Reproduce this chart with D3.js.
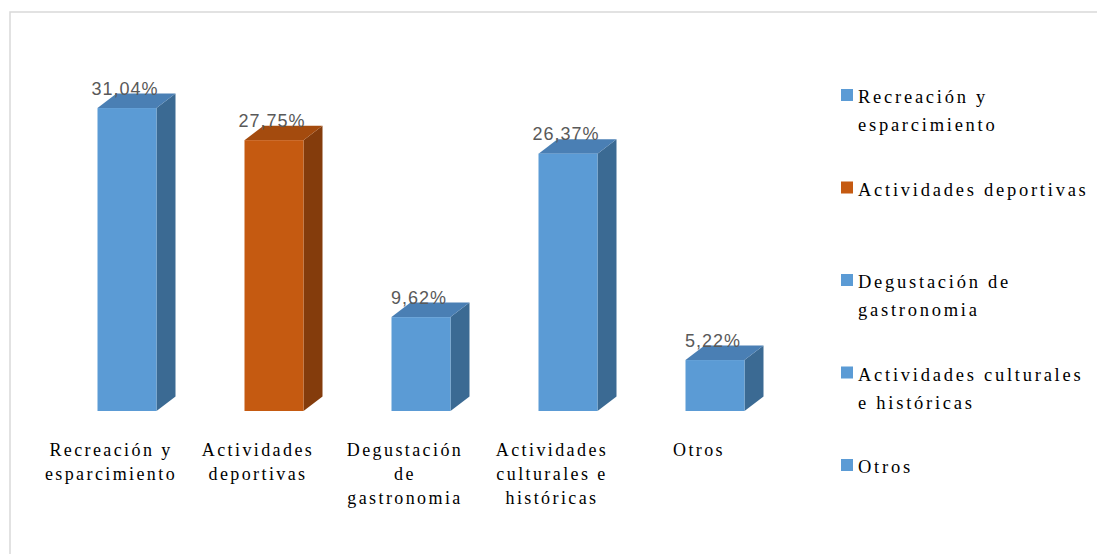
<!DOCTYPE html>
<html><head><meta charset="utf-8">
<script src="https://cdn.jsdelivr.net/npm/d3@7"></script>
<style>body{margin:0;background:#fff}svg{display:block}</style>
</head><body>
<svg id="c" width="1097" height="554"></svg>
<script>
const categories = ["Recreación y esparcimiento","Actividades deportivas","Degustación de gastronomia","Actividades culturales e históricas","Otros"];
const values = [31.04, 27.75, 9.62, 26.37, 5.22];
const valueLabels = ["31,04%","27,75%","9,62%","26,37%","5,22%"];
const axisLabelLines = [["Recreación y","esparcimiento"],["Actividades","deportivas"],["Degustación","de","gastronomia"],["Actividades","culturales e","históricas"],["Otros"]];
const legendLines = [["Recreación y","esparcimiento"],["Actividades deportivas"],["Degustación de","gastronomia"],["Actividades culturales","e históricas"],["Otros"]];
const barColors = ["blue","orange","blue","blue","blue"];

const palette = {
  blue:{front:"#5b9bd5", top:"#4a7fb4", side:"#3b6a93"},
  orange:{front:"#c55a11", top:"#a44b0e", side:"#843c0c"}
};
const SERIF = "'Liberation Serif', 'Times New Roman', serif";
const SANS = "'Liberation Sans', Arial, sans-serif";

const svg = d3.select("#c");
svg.append("path").attr("d","M10,560 L10,12 L1100,12").attr("fill","none").attr("stroke","#d9d9d9").attr("stroke-width",1.5);

const x = d3.scalePoint().domain(categories).range([36.5, 771.5]).padding(0.5);
const y = d3.scaleLinear().domain([0,35]).range([411, 69.4]);
const bw = 59, dx = 19, dy = 14.5, shift = 17;

const g = svg.append("g");
categories.forEach((c,i)=>{
  const col = palette[barColors[i]];
  const cx = x(c) + shift;
  const x0 = cx - bw/2, x1 = cx + bw/2;
  const yt = y(values[i]), yb = y(0);
  g.append("path").attr("d",`M${x1},${yt} L${x1+dx},${yt-dy} L${x1+dx},${yb-dy} L${x1},${yb} Z`).attr("fill",col.side);
  g.append("path").attr("d",`M${x0},${yt} L${x0+dx},${yt-dy} L${x1+dx},${yt-dy} L${x1},${yt} Z`).attr("fill",col.top);
  g.append("rect").attr("x",x0).attr("y",yt).attr("width",bw).attr("height",yb-yt).attr("fill",col.front);
  g.append("text").style("font-family",SANS).attr("x",cx-2).attr("y",yt-dy+1).attr("text-anchor","middle")
    .style("font-size","18px").style("letter-spacing","1px")
    .attr("fill","#595959").text(valueLabels[i]);
  const t = g.append("text").style("font-family",SERIF).attr("text-anchor","middle")
    .style("font-size","18px").style("letter-spacing","2.4px").attr("fill","#000");
  axisLabelLines[i].forEach((ln,j)=>{
    t.append("tspan").attr("x",x(c)+1).attr("y",456+j*24).text(ln);
  });
});

const lg = svg.append("g");
legendLines.forEach((lines,i)=>{
  const by = 103 + i*92.5;
  lg.append("rect").attr("x",841).attr("y",by-14).attr("width",12).attr("height",12).attr("fill",palette[barColors[i]].front);
  const t = lg.append("text").style("font-family",SERIF).style("font-size","18.5px").style("letter-spacing","2.75px").attr("fill","#000");
  lines.forEach((ln,j)=>{
    t.append("tspan").attr("x",858).attr("y",by+j*28).text(ln);
  });
});
</script>
</body></html>
